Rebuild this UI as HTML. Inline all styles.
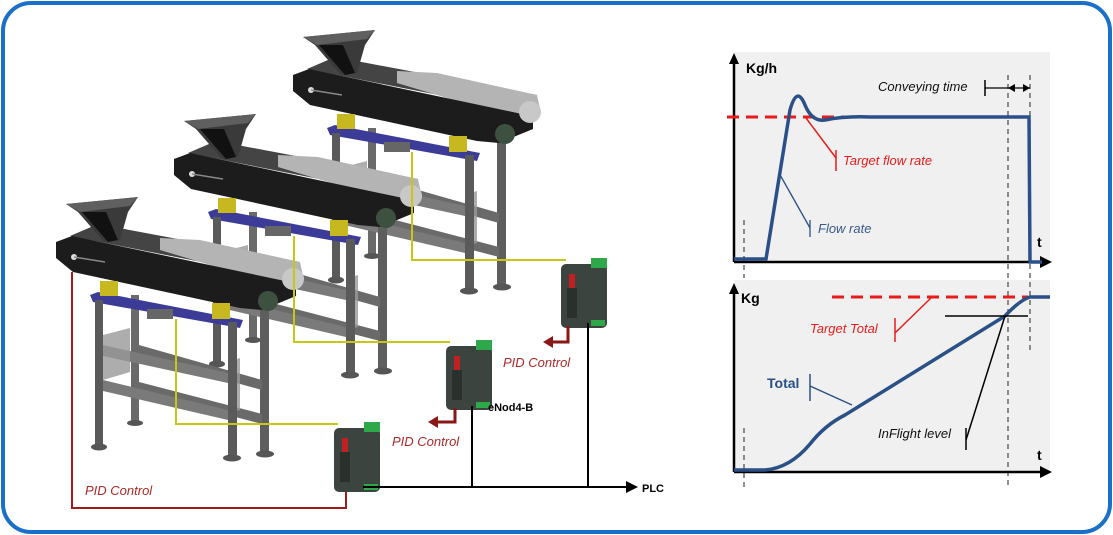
<!DOCTYPE html>
<html><head><meta charset="utf-8"><style>
html,body{margin:0;padding:0;background:#fff;}
svg{display:block;}
text{font-family:"Liberation Sans",sans-serif;}
</style></head><body>
<svg width="1113" height="535" viewBox="0 0 1113 535" xmlns="http://www.w3.org/2000/svg">
<defs>
<g id="conv">
  <!-- back legs & frame -->
  <rect x="131" y="295" width="8" height="126" fill="#6a6a6a"/>
  <rect x="260" y="300" width="9" height="152" fill="#5e5e5e"/>
  <polygon points="139,345 262,380 262,390 139,356" fill="#6a6a6a"/>
  <polygon points="139,382 262,414 262,424 139,392" fill="#6a6a6a"/>
  <ellipse cx="135" cy="423" rx="8" ry="3" fill="#555"/>
  <ellipse cx="265" cy="454" rx="9" ry="3.5" fill="#555"/>
  <!-- body top face -->
  <polygon points="70,236 98,224 300,262 292,280" fill="#444"/>
  <polygon points="160,238 200,240 300,262 304,280 280,286 160,250" fill="#b4b4b4"/>
  <!-- hopper -->
  <polygon points="66,204 138,197 128,212 120,240 104,242 78,212" fill="#3a3a3a"/>
  <polygon points="66,204 138,197 130,206 80,212" fill="#5f5f5f"/>
  <polygon points="82,212 106,212 118,240 108,242" fill="#111"/>
  <!-- body front face -->
  <polygon points="56,242 72,236 285,281 296,282 296,296 262,310 240,308 73,272 56,258" fill="#1c1c1c"/>
  <circle cx="293" cy="279" r="11" fill="#c8c8c8"/>
  <circle cx="268" cy="301" r="10" fill="#3e5040"/>
  <circle cx="74" cy="257" r="3" fill="#ddd"/>
  <line x1="74" y1="257" x2="105" y2="262" stroke="#888" stroke-width="1.5"/>
  <!-- blue bar -->
  <polygon points="90,295 98,292 243,320 240,328 93,302" fill="#3c3c98"/>
  <rect x="100" y="281" width="18" height="15" fill="#c8b820"/>
  <rect x="212" y="303" width="18" height="16" fill="#c8b820"/>
  <rect x="147" y="309" width="26" height="10" fill="#666"/>
  <!-- front legs & frame -->
  <polygon points="103,345 228,373 228,383 103,356" fill="#7a7a7a"/>
  <polygon points="103,380 228,410 228,420 103,391" fill="#7a7a7a"/>
  <polygon points="103,335 130,328 130,372 103,380" fill="#999" opacity=".8"/>
  <polygon points="228,362 240,358 240,410 228,414" fill="#999" opacity=".8"/>
  <rect x="95" y="300" width="8" height="147" fill="#5a5a5a"/>
  <rect x="228" y="322" width="9" height="133" fill="#5a5a5a"/>
  <ellipse cx="99" cy="447" rx="8" ry="3.5" fill="#555"/>
  <ellipse cx="232" cy="458" rx="9" ry="3.5" fill="#555"/>
</g>
<g id="dev">
  <rect x="0" y="6" width="46" height="64" rx="5" fill="#3c4440"/>
  <rect x="30" y="0" width="16" height="10" fill="#2fa84a"/>
  <rect x="30" y="62" width="14" height="6" fill="#2fa84a"/>
  <rect x="8" y="16" width="6" height="14" fill="#c02020"/>
  <rect x="6" y="30" width="10" height="30" fill="#2a302c"/>
</g>
</defs>

<rect x="3" y="3" width="1107" height="529" rx="28" fill="#fff" stroke="#1a6fc8" stroke-width="4"/>

<!-- conveyors -->
<use href="#conv" transform="translate(237,-167)"/>
<use href="#conv" transform="translate(118,-83)"/>
<use href="#conv"/>

<!-- yellow signal lines -->
<g stroke="#c8c814" stroke-width="2" fill="none">
<polyline points="176,319 176,424 338,424"/>
<polyline points="294,236 294,342 450,342"/>
<polyline points="412,152 412,260 566,260"/>
</g>

<!-- red PID line -->
<polyline points="72,272 72,508 346,508 346,490" stroke="#a01c1c" stroke-width="2" fill="none"/>
<text x="85" y="495" font-size="13" font-style="italic" fill="#b02828">PID Control</text>

<!-- devices -->
<use href="#dev" transform="translate(334,422)"/>
<use href="#dev" transform="translate(446,340)"/>
<use href="#dev" transform="translate(561,258)"/>

<!-- PLC bus -->
<g stroke="#000" stroke-width="2" fill="none">
<line x1="363" y1="487" x2="628" y2="487"/>
<line x1="472" y1="406" x2="472" y2="487"/>
<line x1="588" y1="323" x2="588" y2="487"/>
</g>
<polygon points="626,481 638,487 626,493" fill="#000"/>
<text x="642" y="492" font-size="11" font-weight="bold">PLC</text>
<text x="488" y="411" font-size="11" font-weight="bold">eNod4-B</text>

<!-- red PID arrows -->
<polyline points="455,408 455,422 436,422" stroke="#8a1616" stroke-width="3" fill="none"/>
<polygon points="428,422 438,416 438,428" fill="#8a1616"/>
<polyline points="568,326 568,342 551,342" stroke="#8a1616" stroke-width="3" fill="none"/>
<polygon points="543,342 553,336 553,348" fill="#8a1616"/>
<text x="392" y="446" font-size="13" font-style="italic" fill="#b02828">PID Control</text>
<text x="503" y="367" font-size="13" font-style="italic" fill="#b02828">PID Control</text>

<!-- charts -->
<rect x="734" y="52" width="316" height="210" fill="#f0f0f0"/>
<rect x="734" y="280" width="316" height="192" fill="#f0f0f0"/>
<g stroke="#555" stroke-width="1.3" stroke-dasharray="5,4">
<line x1="1008" y1="75" x2="1008" y2="488"/>
<line x1="1030" y1="75" x2="1030" y2="352"/>
<line x1="744" y1="220" x2="744" y2="278"/>
<line x1="744" y1="428" x2="744" y2="488"/>
</g>
<g stroke="#000" stroke-width="2.5">
<line x1="734" y1="262" x2="1042" y2="262"/>
<line x1="734" y1="262" x2="734" y2="62"/>
<line x1="734" y1="472" x2="1042" y2="472"/>
<line x1="734" y1="472" x2="734" y2="292"/>
</g>
<polygon points="729,64 734,53 739,64" fill="#000"/>
<polygon points="729,294 734,283 739,294" fill="#000"/>
<polygon points="1040,256 1052,262 1040,268" fill="#000"/>
<polygon points="1040,466 1052,472 1040,478" fill="#000"/>
<text x="746" y="73" font-size="14" font-weight="bold">Kg/h</text>
<text x="741" y="303" font-size="14" font-weight="bold">Kg</text>
<text x="1037" y="247" font-size="14" font-weight="bold">t</text>
<text x="1037" y="460" font-size="14" font-weight="bold">t</text>

<line x1="727" y1="117" x2="950" y2="117" stroke="#e81c1c" stroke-width="3" stroke-dasharray="12,7"/>
<path d="M734,259 L766,259 L790,110 Q797,85 805,105 Q812,122 825,120 Q845,116 870,117 L1029,117 L1030,262 L1042,262" stroke="#2a5088" stroke-width="3.5" fill="none"/>

<text x="878" y="91" font-size="13" font-style="italic" fill="#111">Conveying time</text>
<line x1="985" y1="80" x2="985" y2="96" stroke="#000" stroke-width="1.5"/>
<line x1="985" y1="88" x2="1030" y2="88" stroke="#000" stroke-width="1.2"/>
<polygon points="1008,88 1015,84 1015,92" fill="#000"/>
<polygon points="1030,88 1023,84 1023,92" fill="#000"/>

<polyline points="806,118 836,158" stroke="#e81c1c" stroke-width="1.5" fill="none"/>
<line x1="836" y1="150" x2="836" y2="171" stroke="#e81c1c" stroke-width="1.5"/>
<text x="843" y="165" font-size="13" font-style="italic" fill="#e81c1c">Target flow rate</text>
<polyline points="779,173 810,228" stroke="#2a5088" stroke-width="1.3" fill="none"/>
<line x1="810" y1="220" x2="810" y2="237" stroke="#2a5088" stroke-width="1.3"/>
<text x="818" y="233" font-size="13" font-style="italic" fill="#3a5a88">Flow rate</text>

<line x1="832" y1="297" x2="1028" y2="297" stroke="#e81c1c" stroke-width="3" stroke-dasharray="12,7"/>
<path d="M734,470 L765,470 Q790,468 810,444 Q825,425 845,415 L1005,316 Q1020,300 1030,297 L1050,297" stroke="#2a5088" stroke-width="3.5" fill="none"/>
<line x1="945" y1="316" x2="1028" y2="316" stroke="#000" stroke-width="1.5"/>
<polyline points="932,297 895,333" stroke="#e81c1c" stroke-width="1.5" fill="none"/>
<line x1="895" y1="318" x2="895" y2="342" stroke="#e81c1c" stroke-width="1.5"/>
<text x="810" y="333" font-size="13" font-style="italic" fill="#e81c1c">Target Total</text>
<line x1="810" y1="374" x2="810" y2="401" stroke="#2a5088" stroke-width="1.5"/>
<line x1="810" y1="386" x2="852" y2="405" stroke="#2a5088" stroke-width="1.5"/>
<text x="767" y="388" font-size="14" font-weight="bold" fill="#2a5088">Total</text>
<line x1="1005" y1="316" x2="966" y2="440" stroke="#000" stroke-width="1.5"/>
<line x1="966" y1="428" x2="966" y2="450" stroke="#000" stroke-width="1.5"/>
<text x="878" y="438" font-size="13" font-style="italic" fill="#111">InFlight level</text>
</svg>
</body></html>
